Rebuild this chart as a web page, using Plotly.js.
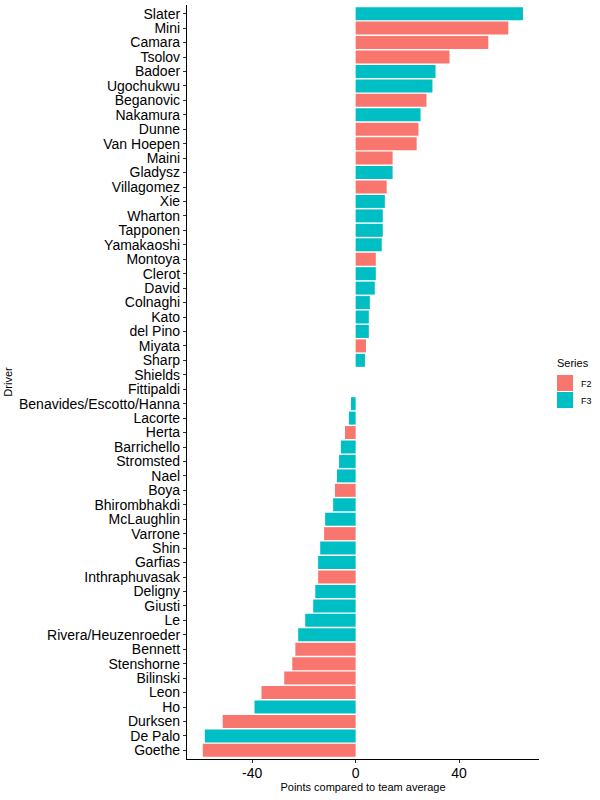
<!DOCTYPE html>
<html>
<head>
<meta charset="utf-8">
<script src="https://cdn.plot.ly/plotly-3.0.1.min.js"></script>
<style>html,body{margin:0;padding:0;background:#fff;}#chart{width:600px;height:800px;}</style>
</head>
<body>
<div id="chart"></div>
<script>
// Drivers, top to bottom
var drivers = ["Slater","Mini","Camara","Tsolov","Badoer","Ugochukwu","Beganovic","Nakamura","Dunne","Van Hoepen",
  "Maini","Gladysz","Villagomez","Xie","Wharton","Tapponen","Yamakaoshi","Montoya","Clerot","David",
  "Colnaghi","Kato","del Pino","Miyata","Sharp","Shields","Fittipaldi","Benavides/Escotto/Hanna","Lacorte","Herta",
  "Barrichello","Stromsted","Nael","Boya","Bhirombhakdi","McLaughlin","Varrone","Shin","Garfias","Inthraphuvasak",
  "Deligny","Giusti","Le","Rivera/Heuzenroeder","Bennett","Stenshorne","Bilinski","Leon","Ho","Durksen",
  "De Palo","Goethe"];
var points = [64.7,59.0,51.3,36.3,30.9,29.7,27.4,25.1,24.3,23.6,
  14.3,14.3,12.0,11.3,10.5,10.5,10.1,7.8,7.8,7.4,
  5.5,5.1,5.1,4.0,3.6,0,0,-1.8,-2.6,-4.1,
  -5.7,-6.4,-7.2,-8.0,-8.7,-11.8,-12.2,-13.7,-14.5,-14.5,
  -15.6,-16.4,-19.5,-22.2,-23.3,-24.5,-27.6,-36.4,-39.1,-51.4,
  -58.3,-59.1];
var series = ["F3","F2","F2","F2","F3","F3","F2","F3","F2","F2",
  "F2","F3","F2","F3","F3","F3","F3","F2","F3","F3",
  "F3","F3","F3","F2","F3","F2","F2","F3","F3","F2",
  "F3","F3","F3","F2","F3","F3","F2","F3","F3","F2",
  "F3","F3","F3","F3","F2","F2","F2","F2","F3","F2",
  "F3","F2"];
var seriesNames = ["F2","F3"];
var seriesColors = ["#F8766D","#00BFC4"];
var xTicks = [-40,0,40];

var traces = seriesNames.map(function(s, k){
  var ys=[], xs=[];
  for (var i=0;i<drivers.length;i++){ if(series[i]===s){ ys.push(drivers[i]); xs.push(points[i]); } }
  return {type:'bar', orientation:'h', x:xs, y:ys, name:s, width:0.9,
    marker:{color:seriesColors[k], line:{width:0}}, showlegend:false, hoverinfo:'x+y'};
});

var W=600,H=800, ml=187, mr=61, mt=5, mb=41;
var pw=W-ml-mr, ph=H-mt-mb;
function px(x){return (x-ml)/pw;}
function py(y){return (mt+ph-y)/ph;}

var shapes=[], annotations=[];
// legend
annotations.push({xref:'paper',yref:'paper',x:px(555),y:py(363),xanchor:'left',yanchor:'middle',
  text:'Series',showarrow:false,font:{family:'Liberation Sans, Arial, sans-serif',size:11,color:'#000'}});
seriesNames.forEach(function(s,k){
  var top=375+k*17;
  shapes.push({type:'rect',xref:'paper',yref:'paper',x0:px(557),x1:px(573),y0:py(top+16),y1:py(top),
    fillcolor:seriesColors[k],line:{width:0}});
  annotations.push({xref:'paper',yref:'paper',x:px(579),y:py(top+8.5),xanchor:'left',yanchor:'middle',
    text:s,showarrow:false,font:{family:'Liberation Sans, Arial, sans-serif',size:9,color:'#000'}});
});

var layout = {
  width:W, height:H,
  margin:{l:ml,r:mr,t:mt,b:mb,pad:0},
  paper_bgcolor:'#fff', plot_bgcolor:'#fff',
  barmode:'overlay', bargap:0.1,
  showlegend:false,
  font:{family:'Liberation Sans, Arial, sans-serif', color:'#000'},
  xaxis:{range:[-65.2,70.9], tickmode:'array', tickvals:xTicks, ticktext:xTicks.map(String), showgrid:false, zeroline:false,
    showline:true, linecolor:'#000', linewidth:1.1, ticks:'outside', ticklen:3, tickcolor:'#333', tickwidth:1,
    tickfont:{size:14,color:'#000'}, ticklabelstandoff:-2,
    title:{text:'Points compared to team average', font:{size:11,color:'#000'}, standoff:2}},
  yaxis:{type:'category', categoryorder:'array', categoryarray:drivers.slice().reverse(),
    tickmode:'array', tickvals:drivers, ticktext:drivers,
    range:[-0.6, drivers.length-1+0.6], showgrid:false, zeroline:false,
    showline:true, linecolor:'#000', linewidth:1.1, ticks:'outside', ticklen:3, tickcolor:'#333', tickwidth:1,
    tickfont:{size:14,color:'#000'}, automargin:false,
    title:{text:'Driver', font:{size:11,color:'#000'}, standoff:4}},
  shapes:shapes, annotations:annotations
};
Plotly.newPlot('chart', traces, layout, {displayModeBar:false, staticPlot:true});
</script>
</body>
</html>
